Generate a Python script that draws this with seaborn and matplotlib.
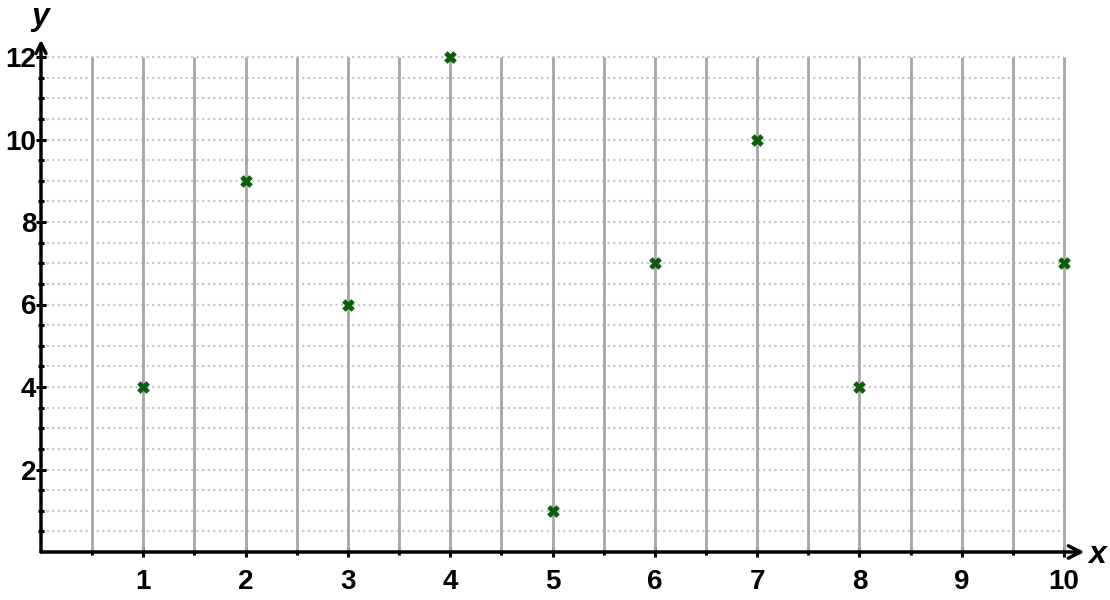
import numpy as np
import pandas as pd
import matplotlib
matplotlib.use('Agg')
import matplotlib.pyplot as plt
import seaborn as sns

# ==================== data ====================
x_vals = [1, 2, 3, 4, 5, 6, 7, 8, 10]
y_vals = [4, 9, 6, 12, 1, 7, 10, 4, 7]
x_ticks = list(range(1, 11))
y_ticks = [2, 4, 6, 8, 10, 12]

df = pd.DataFrame({'x': x_vals, 'y': y_vals})

sns.set_style('white')
plt.rcParams['font.family'] = ['Liberation Sans', 'DejaVu Sans']

fig = plt.figure(figsize=(11.1, 6.0), dpi=100)
# 0 at px 41 horizontally, 552 vertically; 102.3 px per x unit, 41.25 px per y unit
ax = fig.add_axes([41 / 1110, 48 / 600, 10.4 * 102.3 / 1110, 13.0 * 41.25 / 600])
ax.set_xlim(0, 10.4)
ax.set_ylim(0, 13.0)

# grid: solid verticals, dotted horizontals
grid_x = np.arange(0.5, 10.01, 0.5)
grid_y = np.arange(0.5, 12.01, 0.5)
ax.vlines(grid_x, 0, 12, colors='#a6a6a6', linewidth=2, zorder=1)
ax.hlines(grid_y, 0, 10, colors='#c8c8c8', linewidth=1.6, linestyles=(0, (1, 1.5)), zorder=0)

sns.scatterplot(data=df, x='x', y='y', marker='X', s=70, color='#0b5e0b',
                edgecolor='#0b5e0b', linewidth=0.5, ax=ax, zorder=5)

# axes with arrows
for s in ax.spines.values():
    s.set_visible(False)
ax.annotate('', xy=(10.2, 0), xytext=(0, 0),
            arrowprops=dict(arrowstyle='->', color='black', lw=2.5,
                            shrinkA=0, shrinkB=0, mutation_scale=22), zorder=6)
ax.annotate('', xy=(0, 12.42), xytext=(0, 0),
            arrowprops=dict(arrowstyle='->', color='black', lw=2.5,
                            shrinkA=0, shrinkB=0, mutation_scale=18), zorder=6)

ax.set_xticks(x_ticks)
ax.set_xticks(np.arange(0.5, 10.01, 0.5), minor=True)
ax.set_yticks(y_ticks)
ax.set_yticks(np.arange(0.5, 12.01, 0.5), minor=True)
ax.set_xticklabels([str(v) for v in x_ticks], fontsize=20, fontweight='bold')
ax.set_yticklabels([str(v) for v in y_ticks], fontsize=20, fontweight='bold')
ax.tick_params(axis='both', which='both', direction='inout', width=2.2, color='black',
               labelcolor='black', bottom=True, left=True)
ax.tick_params(axis='both', which='major', length=7)
ax.tick_params(axis='both', which='minor', length=4.5)
ax.tick_params(axis='x', which='major', pad=9)
ax.tick_params(axis='y', which='major', pad=0)
ax.set_xlabel('')
ax.set_ylabel('')

fig.text(40 / 1110, 1 - 17 / 600, 'y', fontsize=23, fontweight='bold', fontstyle='italic',
         ha='center', va='center', color='black')
fig.text(1097 / 1110, 1 - 555 / 600, 'x', fontsize=23, fontweight='bold', fontstyle='italic',
         ha='center', va='center', color='black')

fig.savefig('out.png', dpi=100)
